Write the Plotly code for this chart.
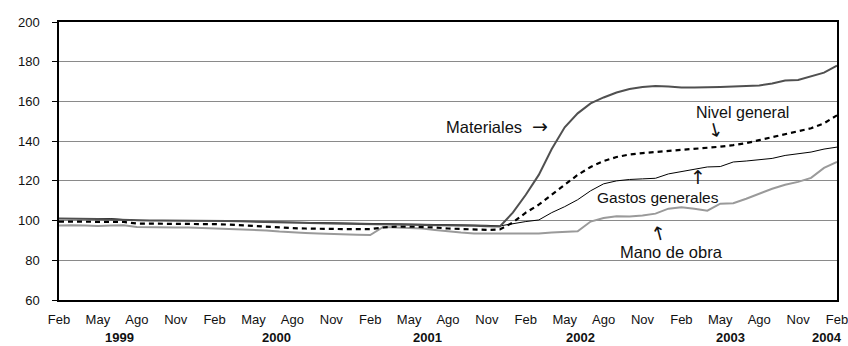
import plotly.graph_objects as go

# Month index 0 = Feb 1999 ... 60 = Feb 2004
months = list(range(61))
tick_vals = list(range(0, 61, 3))
tick_text = ["Feb", "May", "Ago", "Nov"] * 5 + ["Feb"]
years = ["1999", "2000", "2001", "2002", "2003", "2004"]
year_pos = [4.7, 16.8, 28.4, 40.2, 51.8, 59.2]

materiales = [101, 101, 101, 100.8, 100.6, 100.4, 100, 100, 100, 100, 100, 100,
              100, 99.8, 99.6, 99.4, 99.2, 99, 99, 98.8, 98.6, 98.5, 98.4, 98.3,
              98.2, 98.2, 98.1, 98, 98, 98, 97.8, 97.6, 97.4, 97.2, 97, 104,
              113, 123, 136, 147, 154, 159, 162, 164.5, 166.3, 167.3, 167.8, 167.5,
              167, 167, 167.3, 167.3, 167.5, 167.7, 168, 169, 170.5, 170.8, 172.5, 174.5,
              178]

nivel_general = [99.5, 99.5, 99.5, 99.5, 99.5, 99.3, 98.5, 98.5, 98.5, 98.5, 98.5, 98.3,
                 98.2, 98, 97.6, 97.2, 96.8, 96.5, 96.2, 96, 95.8, 95.7, 95.7, 95.7,
                 95.7, 96.5, 97, 97, 96.8, 96.5, 96, 95.7, 95.5, 95.3, 95.5, 99,
                 104, 108, 113, 118, 123, 127, 130, 132, 133.3, 134, 134.5, 135,
                 135.5, 136, 136.5, 137.2, 138, 139, 140.5, 142, 143.5, 145, 146.5, 149,
                 153]

gastos_generales = [101, 101, 101, 101, 101, 100.5, 100, 100, 100, 100, 100, 100,
                    100, 99.8, 99.6, 99.5, 99.3, 99.2, 99, 99, 98.8, 98.7, 98.6, 98.5,
                    98.5, 98.5, 98.4, 98.4, 98.3, 98.3, 98.2, 98, 97.8, 97.6, 97.3, 98.5,
                    99.5, 100.3, 104, 107, 110.5, 115, 118.5, 120, 120.7, 121, 121.3, 123.5,
                    124.7, 126, 127, 127.2, 129.5, 130, 130.5, 131.3, 132.8, 133.5, 134.5, 136,
                    137]

mano_de_obra = [97.5, 97.7, 97.5, 97.3, 97.5, 97.7, 96.8, 96.6, 96.5, 96.5, 96.5, 96.3,
                96, 95.8, 95.5, 95.3, 95, 94.5, 94, 93.8, 93.5, 93.2, 93, 92.8,
                92.7, 96.8, 96.5, 96.3, 96, 95.3, 94.5, 94, 93.5, 93.5, 93.5, 93.5,
                93.5, 93.5, 94, 94.3, 94.6, 99.5, 101.3, 102.2, 102, 102.5, 103.5, 106,
                106.7, 106, 105, 108.5, 108.7, 111, 113.5, 116, 118, 119.5, 121.5, 126.5,
                129.5]

font_family = "Arial, Liberation Sans, sans-serif"
arrow_family = "DejaVu Sans, sans-serif"

fig = go.Figure()
fig.add_trace(go.Scatter(x=months, y=mano_de_obra, mode="lines", name="Mano de obra",
                         line=dict(color="#9a9a9a", width=2)))
fig.add_trace(go.Scatter(x=months, y=gastos_generales, mode="lines", name="Gastos generales",
                         line=dict(color="#000000", width=1)))
fig.add_trace(go.Scatter(x=months, y=nivel_general, mode="lines", name="Nivel general",
                         line=dict(color="#000000", width=2.2, dash="5px,4px")))
fig.add_trace(go.Scatter(x=months, y=materiales, mode="lines", name="Materiales",
                         line=dict(color="#505050", width=2)))

ann = []
def add_text(x, y, t, size=16, angle=0, family=font_family):
    ann.append(dict(x=x, y=y, xref="x", yref="y", text=t, showarrow=False,
                    font=dict(family=family, size=size, color="#111"),
                    xanchor="center", yanchor="middle", textangle=angle))

add_text(32.8, 147, "Materiales", 16.5)
add_text(37.1, 147.5, "→", 19, 0, arrow_family)
add_text(52.7, 154.5, "Nivel general", 16)
add_text(50.6, 145.5, "↓", 19, -15, arrow_family)
add_text(46.2, 111.7, "Gastos generales", 15.5)
add_text(49.3, 121.8, "↑", 19, 0, arrow_family)
add_text(47.2, 84, "Mano de obra", 16.5)
add_text(46.3, 93.6, "↑", 19, -15, arrow_family)

for yr, xp in zip(years, year_pos):
    ann.append(dict(x=xp, y=-0.135, xref="x", yref="paper",
                    text="<b>" + yr + "</b>", showarrow=False,
                    font=dict(family=font_family, size=13, color="#111"),
                    xanchor="center", yanchor="middle"))

fig.update_layout(
    width=848, height=346,
    margin=dict(l=59, r=11, t=22, b=46, autoexpand=False),
    paper_bgcolor="white", plot_bgcolor="white",
    showlegend=False,
    annotations=ann,
    font=dict(family=font_family, size=13, color="#111"),
)
fig.update_xaxes(range=[0, 60], tickvals=tick_vals, ticktext=tick_text,
                 showgrid=False, zeroline=False, showline=True, linecolor="black",
                 linewidth=1.5, mirror=True, ticks="", ticklabelstandoff=7,
                 automargin=False, ticklabeloverflow="allow",
                 tickfont=dict(family=font_family, size=13, color="#111"))
fig.update_yaxes(range=[60, 200], tickvals=list(range(60, 201, 20)),
                 showgrid=True, gridcolor="#8a8a8a", gridwidth=1, zeroline=False,
                 showline=True, linecolor="black", linewidth=1.5, mirror=True,
                 ticks="outside", ticklen=5, tickcolor="black", ticklabelstandoff=10,
                 automargin=False,
                 tickfont=dict(family=font_family, size=13, color="#111"))

fig.write_html(
    "out.html",
    config={"displayModeBar": False},
    post_script="document.body.style.margin='0';document.body.style.overflow='hidden';",
)
